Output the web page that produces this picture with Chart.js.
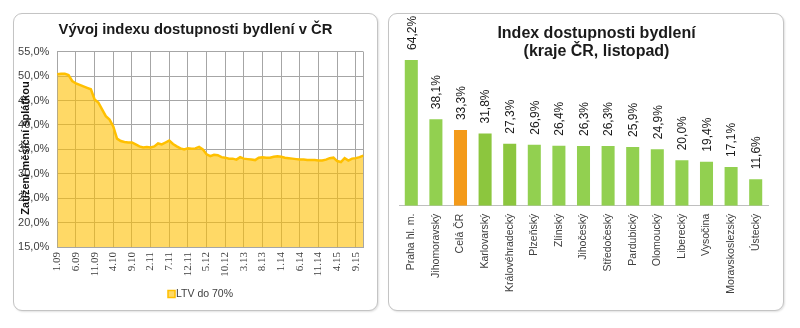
<!DOCTYPE html>
<html>
<head>
<meta charset="utf-8">
<title>Index dostupnosti bydlení</title>
<script src="https://cdn.jsdelivr.net/npm/chart.js@4.4.1/dist/chart.umd.min.js"></script>
<style>
  html, body { margin: 0; padding: 0; background: #fff; }
  body { width: 800px; height: 328px; position: relative; overflow: hidden; }
  .panel { position: absolute; border: 1px solid #c4c4c4; border-radius: 9px; box-shadow: 1px 1px 2px rgba(0,0,0,0.12); background: #fff; }
  #panelTrend { left: 13px; top: 13px; width: 363px; height: 296px; }
  #panelRegions { left: 388px; top: 13px; width: 394px; height: 296px; }
  canvas { position: absolute; top: 0; }
  #trendChart { left: 0; width: 385px; height: 328px; }
  #regionChart { left: 385px; width: 415px; height: 328px; }
</style>
</head>
<body>
<div class="panel" id="panelTrend"></div>
<div class="panel" id="panelRegions"></div>
<canvas id="trendChart" width="385" height="328"></canvas>
<canvas id="regionChart" width="415" height="328"></canvas>

<script>
const SANS = '"Liberation Sans", Arial, sans-serif';
const SERIF = '"Liberation Serif", "Times New Roman", serif';

// --- monthly index, 1/2009 - 11/2015 ---
const months = [
  '1.09','2.09','3.09','4.09','5.09','6.09','7.09','8.09','9.09','10.09','11.09','12.09',
  '1.10','2.10','3.10','4.10','5.10','6.10','7.10','8.10','9.10','10.10','11.10','12.10',
  '1.11','2.11','3.11','4.11','5.11','6.11','7.11','8.11','9.11','10.11','11.11','12.11',
  '1.12','2.12','3.12','4.12','5.12','6.12','7.12','8.12','9.12','10.12','11.12','12.12',
  '1.13','2.13','3.13','4.13','5.13','6.13','7.13','8.13','9.13','10.13','11.13','12.13',
  '1.14','2.14','3.14','4.14','5.14','6.14','7.14','8.14','9.14','10.14','11.14','12.14',
  '1.15','2.15','3.15','4.15','5.15','6.15','7.15','8.15','9.15','10.15','11.15'
];
const ltv70 = [
  50.4, 50.5, 50.5, 50.2, 49.0, 48.5, 48.2, 47.9, 47.6, 47.3,
  45.2, 44.6, 43.2, 41.8, 41.1, 39.7, 37.2, 36.7, 36.5, 36.4,
  36.4, 36.0, 35.6, 35.4, 35.5, 35.4, 35.6, 36.2, 36.0, 36.4,
  36.8, 36.1, 35.6, 35.2, 35.0, 35.2, 35.1, 35.2, 35.5, 35.0,
  34.0, 33.6, 33.9, 33.8, 33.4, 33.3, 33.1, 33.1, 32.9, 33.4,
  33.1, 33.0, 32.9, 32.8, 33.3, 33.4, 33.3, 33.3, 33.5, 33.6,
  33.5, 33.3, 33.2, 33.1, 33.0, 32.9, 32.9, 32.8, 32.8, 32.8,
  32.7, 32.7, 32.9, 33.2, 33.3, 32.6, 32.4, 33.2, 32.7, 33.1,
  33.2, 33.4, 33.7
];
const monthTicks = ['1.09','6.09','11.09','4.10','9.10','2.11','7.11','12.11','5.12',
  '10.12','3.13','8.13','1.14','6.14','11.14','4.15','9.15'];

// --- regions, November ---
const regions = ['Praha hl. m.','Jihomoravský','Celá ČR','Karlovarský','Královéhradecký',
  'Plzeňský','Zlínský','Jihočeský','Středočeský','Pardubický','Olomoucký','Liberecký',
  'Vysočina','Moravskoslezský','Ústecký'];
const regionIndex = [64.2, 38.1, 33.3, 31.8, 27.3, 26.9, 26.4, 26.3, 26.3, 25.9, 24.9, 20.0, 19.4, 17.1, 11.6];
const regionColors = ['#92d050','#92d050','#f39a1a','#8cc63e','#8cc63e','#92d050','#92d050','#92d050',
  '#92d050','#92d050','#92d050','#92d050','#92d050','#92d050','#92d050'];

const pct = v => v.toFixed(1).replace('.', ',') + '%';

// heading, rotated axis title and the single legend entry of the trend chart
const trendDecorPlugin = {
  id: 'trendDecor',
  afterDraw(chart) {
    const ctx = chart.ctx;
    const ds = chart.data.datasets[0];
    ctx.save();
    ctx.textBaseline = 'middle';

    ctx.font = 'bold 14.8px ' + SANS;
    ctx.fillStyle = '#1a1a1a';
    ctx.textAlign = 'center';
    ctx.fillText('Vývoj indexu dostupnosti bydlení v ČR', 195.5, 29.5);

    ctx.save();
    ctx.translate(26, 148);
    ctx.rotate(-Math.PI / 2);
    ctx.font = 'bold 11px ' + SANS;
    ctx.fillStyle = '#111';
    ctx.fillText('Zatížení měsíční splátkou', 0, 0);
    ctx.restore();

    ctx.fillStyle = ds.backgroundColor;
    ctx.strokeStyle = ds.borderColor;
    ctx.lineWidth = 1.5;
    ctx.fillRect(168, 290.5, 7, 7);
    ctx.strokeRect(168, 290.5, 7, 7);
    ctx.font = '10.5px ' + SANS;
    ctx.fillStyle = '#404040';
    ctx.textAlign = 'left';
    ctx.fillText(ds.label, 176, 294.5);
    ctx.restore();
  }
};

new Chart(document.getElementById('trendChart'), {
  type: 'line',
  data: {
    labels: months,
    datasets: [{
      label: 'LTV do 70%',
      data: ltv70,
      borderColor: '#ffc000',
      backgroundColor: 'rgba(255,192,0,0.6)',
      borderWidth: 2.5,
      pointRadius: 0,
      tension: 0,
      fill: 'start'
    }]
  },
  options: {
    responsive: false,
    animation: false,
    layout: { padding: { left: 0, right: 21.7, top: 51.7, bottom: 49 } },
    plugins: {
      title: { display: false },
      legend: { display: false },
      tooltip: { enabled: false }
    },
    scales: {
      x: {
        offset: false,
        grid: {
          drawTicks: false,
          color: ctx => (monthTicks.includes(months[ctx.index]) || ctx.index === months.length - 1) ? '#a6a6a6' : 'rgba(0,0,0,0)'
        },
        border: { color: '#a6a6a6' },
        ticks: {
          autoSkip: false,
          minRotation: 90,
          maxRotation: 90,
          padding: 5,
          color: '#404040',
          font: { family: SERIF, size: 11 },
          callback: (v, i) => monthTicks.includes(months[i]) ? months[i] : ''
        },
        afterFit: s => { s.height = 32; }
      },
      y: {
        min: 15,
        max: 55,
        grid: { drawTicks: false, color: '#a6a6a6' },
        border: { color: '#a6a6a6' },
        ticks: { stepSize: 5, padding: 8, color: '#404040', font: { family: SANS, size: 11 }, callback: v => pct(v) },
        afterFit: s => { s.width = 57.3; }
      }
    }
  },
  plugins: [trendDecorPlugin]
});

// two-line heading and rotated value labels for the bar chart
const regionTitlePlugin = {
  id: 'regionTitle',
  afterDraw(chart) {
    const ctx = chart.ctx;
    ctx.save();
    ctx.font = 'bold 16px ' + SANS;
    ctx.fillStyle = '#1a1a1a';
    ctx.textAlign = 'center';
    ctx.textBaseline = 'middle';
    ctx.fillText('Index dostupnosti bydlení', 211.5, 33.5);
    ctx.fillText('(kraje ČR, listopad)', 211.5, 52);
    ctx.restore();
  }
};
const valueLabelPlugin = {
  id: 'valueLabels',
  afterDatasetsDraw(chart) {
    const ctx = chart.ctx;
    const meta = chart.getDatasetMeta(0);
    ctx.save();
    ctx.font = '12px ' + SANS;
    ctx.fillStyle = '#1a1a1a';
    ctx.textAlign = 'left';
    ctx.textBaseline = 'middle';
    meta.data.forEach((bar, i) => {
      ctx.save();
      ctx.translate(bar.x + 1, bar.y - 10);
      ctx.rotate(-Math.PI / 2);
      ctx.fillText(pct(regionIndex[i]), 0, 0);
      ctx.restore();
    });
    ctx.restore();
  }
};

new Chart(document.getElementById('regionChart'), {
  type: 'bar',
  data: {
    labels: regions,
    datasets: [{
      data: regionIndex,
      backgroundColor: regionColors,
      borderWidth: 0,
      categoryPercentage: 1,
      barPercentage: 0.53
    }]
  },
  options: {
    responsive: false,
    animation: false,
    layout: { padding: { top: 46.8, left: 14, right: 32, bottom: 0 } },
    plugins: {
      legend: { display: false },
      title: { display: false },
      tooltip: { enabled: false }
    },
    scales: {
      x: {
        grid: { display: false, drawTicks: false },
        border: { display: true, color: '#bfbfbf' },
        ticks: {
          autoSkip: false,
          minRotation: 90,
          maxRotation: 90,
          padding: 8,
          color: '#404040',
          font: { family: SANS, size: 10.5 }
        },
        afterFit: s => { s.height = 122.3; }
      },
      y: { display: false, min: 0, max: 70 }
    }
  },
  plugins: [regionTitlePlugin, valueLabelPlugin]
});
</script>
</body>
</html>
